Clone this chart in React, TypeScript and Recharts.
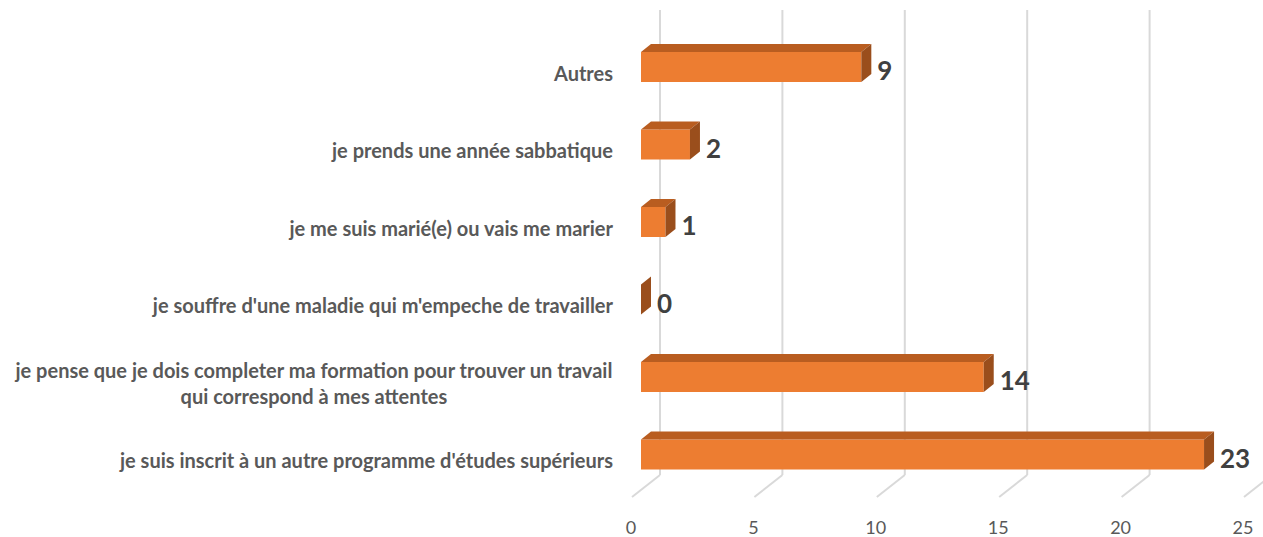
import { Bar, BarChart, CartesianGrid, LabelList, XAxis, YAxis } from "recharts";

const categories = [
  "Autres",
  "je prends une année sabbatique",
  "je me suis marié(e) ou vais me marier",
  "je souffre d'une maladie qui m'empeche de travailler",
  "je pense que je dois completer ma formation pour trouver un travail\nqui correspond à mes attentes",
  "je suis inscrit à un autre programme d'études supérieurs",
];
const counts = [9, 2, 1, 0, 14, 23];
const xTicks = [0, 5, 10, 15, 20, 25];

const data = categories.map((label, i) => ({ label, count: counts[i] }));

const FONT = "Lato, 'Open Sans', sans-serif";
const FRONT = "#ed7d31";
const TOP = "#b95d20";
const SIDE = "#9a4e1c";
const DEPTH_X = 10;
const DEPTH_Y = 8;
const SHIFT = -6;

let ctx: CanvasRenderingContext2D | null = null;
function textWidth(text: string, font: string) {
  if (!ctx) ctx = document.createElement("canvas").getContext("2d");
  if (!ctx) return text.length * 8;
  ctx.font = font;
  return ctx.measureText(text).width;
}

function Bar3D(props: any) {
  const { x, y, width, height } = props;
  const y0 = y + SHIFT;
  const w = Math.max(width, 0);
  return (
    <g>
      {w > 0 && <rect x={x} y={y0} width={w} height={height} fill={FRONT} />}
      {w > 0 && (
        <polygon
          points={`${x},${y0} ${x + DEPTH_X},${y0 - DEPTH_Y} ${x + w + DEPTH_X},${y0 - DEPTH_Y} ${x + w},${y0}`}
          fill={TOP}
        />
      )}
      <polygon
        points={`${x + w},${y0} ${x + w + DEPTH_X},${y0 - DEPTH_Y} ${x + w + DEPTH_X},${y0 + height - DEPTH_Y} ${x + w},${y0 + height}`}
        fill={SIDE}
      />
    </g>
  );
}

function ValueLabel(props: any) {
  const { x, y, width, height, value } = props;
  return (
    <text
      x={x + width + 16}
      y={y + SHIFT + height / 2 + 3}
      fill="#404040"
      fontSize={26}
      fontWeight="bold"
      fontFamily={FONT}
      textAnchor="start"
      dominantBaseline="central"
    >
      {value}
    </text>
  );
}

function CategoryTick(props: any) {
  const { x, y, payload } = props;
  const lines = String(payload.value).split("\n");
  const size = 20;
  const font = `bold ${size}px ${FONT}`;
  const right = x - 20;
  const maxW = Math.max(...lines.map((l) => textWidth(l, font)));
  const cx = right - maxW / 2;
  const lineH = 26;
  const startY = y - ((lines.length - 1) * lineH) / 2;
  return (
    <text
      fill="#595959"
      fontSize={size}
      fontWeight="bold"
      fontFamily={FONT}
      textAnchor={lines.length > 1 ? "middle" : "end"}
      dominantBaseline="central"
    >
      {lines.map((l, i) => (
        <tspan key={i} x={lines.length > 1 ? cx : right} y={startY + i * lineH}>
          {l}
        </tspan>
      ))}
    </text>
  );
}

function ValueTick(props: any) {
  const { x, payload } = props;
  return (
    <text x={x - 10} y={527} fill="#595959" fontSize={18} fontFamily={FONT} textAnchor="middle" dominantBaseline="central">
      {payload.value}
    </text>
  );
}

function GridLine(props: any) {
  const { x1, y1, y2 } = props;
  const bx = x1 + 19;
  const top = y1 - 24;
  const bend = y2 - 24;
  return (
    <g key={props.key}>
      <line x1={bx} y1={top} x2={bx} y2={bend} stroke="#d9d9d9" strokeWidth={2} />
      <line x1={bx} y1={bend} x2={x1 - 9} y2={y2 - 2} stroke="#d9d9d9" strokeWidth={2} />
    </g>
  );
}

export default function App() {
  return (
    <div style={{ position: "absolute", left: 0, top: 0, background: "#fff" }}>
      <BarChart
        width={1263}
        height={537}
        data={data}
        layout="vertical"
        margin={{ top: 34, right: 10, bottom: 0, left: 0 }}
      >
        <CartesianGrid horizontal={false} vertical={GridLine} />
        <XAxis
          type="number"
          domain={[0, 25]}
          ticks={xTicks}
          axisLine={false}
          tickLine={false}
          height={38}
          tick={ValueTick}
        />
        <YAxis
          type="category"
          dataKey="label"
          width={641}
          axisLine={false}
          tickLine={false}
          tick={CategoryTick}
          interval={0}
        />
        <Bar dataKey="count" barSize={30} shape={Bar3D} isAnimationActive={false}>
          <LabelList dataKey="count" content={ValueLabel} />
        </Bar>
      </BarChart>
    </div>
  );
}
